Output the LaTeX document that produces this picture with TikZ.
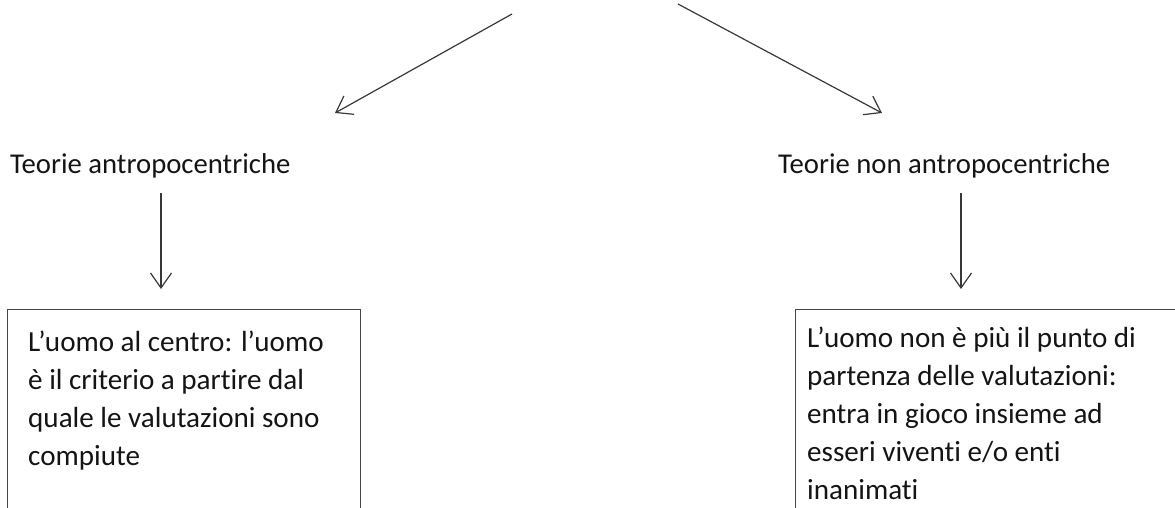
\documentclass[tikz,border=0pt]{standalone}
\usepackage{fontspec}
\setmainfont{Carlito}[Ligatures=NoCommon]
\usetikzlibrary{arrows.meta,positioning}
\tikzstyle{teoria}=[anchor=base west, inner sep=0pt, text=black!92, font=\fontsize{28.7}{34}\selectfont]
\tikzstyle{testo}=[anchor=north west, inner sep=0pt, align=left, text=black!92, font=\fontsize{29.1}{38}\selectfont]
\tikzstyle{riquadro}=[draw=black!72, line width=1.4pt, anchor=north west, inner sep=0pt]
\tikzstyle{freccia}=[-{Straight Barb[length=15pt,width=21pt]}, line width=1.2pt, draw=black!78]

\begin{document}
\begin{tikzpicture}[x=1pt,y=-1pt]
		\useasboundingbox(0,0)rectangle(1175,507);
		\clip(0,0)rectangle(1175,507);
		\coordinate(A1)at(512,14);
		\coordinate(A2)at(335,113);
		\coordinate(B1)at(678,4);
		\coordinate(B2)at(882,113);
		\node[teoria](TA)at(10,173){Teorie antropocentriche};
		\node[teoria](TN)at(778,173){Teorie non antropocentriche};
		\coordinate(C1)at(161,193);
		\coordinate(C2)at(161,289);
		\coordinate(D1)at(961,193);
		\coordinate(D2)at(961,289);
		\node[riquadro, minimum width=353, minimum height=260](RA)at(7,309){};
		\node[riquadro, minimum width=420, minimum height=260](RN)at(795,309){};
		\node[testo](XA)at(28,331){L’uomo al centro: l’uomo\\è il criterio a partire dal\\quale le valutazioni sono\\compiute};
		\node[testo](XN)at(807,327){L’uomo non è più il punto di\\partenza delle valutazioni:\\entra in gioco insieme ad\\esseri viventi e/o enti\\inanimati};
		\draw[freccia](A1)--(A2);
		\draw[freccia](B1)--(B2);
		\draw[freccia](C1)--(C2);
		\draw[freccia](D1)--(D2);
\end{tikzpicture}
\end{document}
